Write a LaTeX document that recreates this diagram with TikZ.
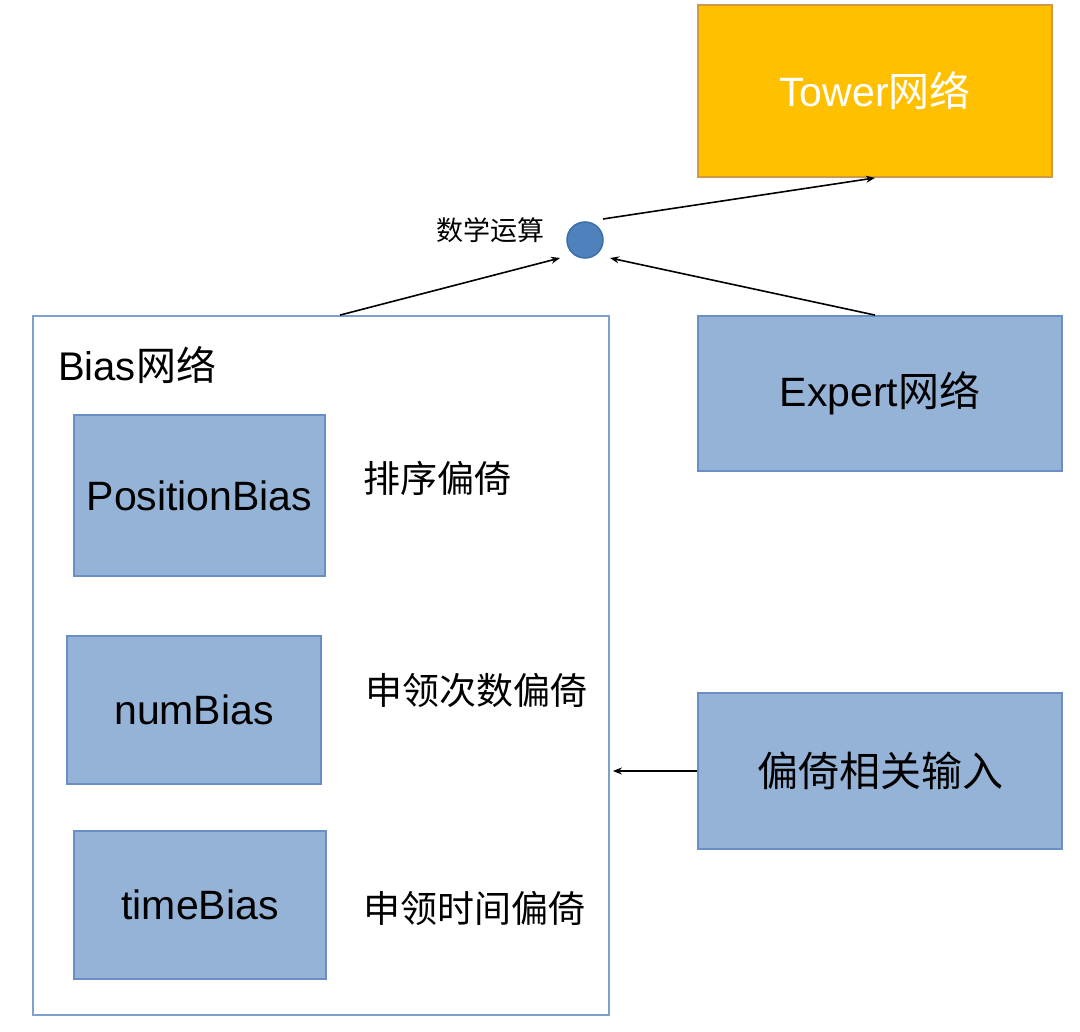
\documentclass[tikz,border=0pt]{standalone}
\usepackage{fontspec}
\setmainfont{Liberation Sans}
\newfontfamily\cjk{Noto Sans CJK SC}
\usetikzlibrary{arrows.meta,calc}
\definecolor{boxfill}{HTML}{95B3D7}
\definecolor{boxline}{HTML}{6A8FC5}
\definecolor{bigline}{HTML}{7FA0CD}
\definecolor{towerfill}{HTML}{FFC000}
\definecolor{towerline}{HTML}{D09A45}
\definecolor{dotfill}{HTML}{4F81BD}
\definecolor{dotline}{HTML}{3D6DA8}
\tikzset{
  bluebox/.style={draw=boxline, line width=1.8pt, fill=boxfill, inner sep=0pt,
    font=\fontsize{41}{48}\selectfont, text=black},
  sidelabel/.style={anchor=west, inner sep=0pt, font=\fontsize{37}{44}\selectfont\cjk},
  conn/.style={line width=1.6pt, -{Stealth[length=9pt,width=7pt]}}
}
\begin{document}
\begin{tikzpicture}[x=1pt,y=-1pt]
\useasboundingbox[fill=white] (0,0) rectangle (1080,1032);
% Tower
\node[draw=towerline, line width=1.8pt, fill=towerfill, inner sep=0pt,
  minimum width=354pt, minimum height=172pt, text=white,
  font=\fontsize{41}{48}\selectfont] (tower) at (875,91) {Tower{\cjk 网络}};
% circle
\node[circle, draw=dotline, line width=1.5pt, fill=dotfill, minimum size=36pt, inner sep=0pt] (circ) at (585,240) {};
\node[inner sep=0pt, font=\fontsize{27}{32}\selectfont\cjk] (op) at (490,230) {数学运算};
% Bias big box
\node[draw=bigline, line width=1.8pt, fill=white, minimum width=576pt, minimum height=699pt, inner sep=0pt] (bias) at (321,665.5) {};
\node[anchor=west, inner sep=0pt, font=\fontsize{40}{48}\selectfont] (biaslabel) at (58,365) {Bias{\cjk 网络}};
\node[bluebox, minimum width=251pt, minimum height=161pt] (pos) at (199.5,495.5) {PositionBias};
\node[bluebox, minimum width=254pt, minimum height=148pt] (num) at (194,710) {numBias};
\node[bluebox, minimum width=252pt, minimum height=148pt] (time) at (200,905) {timeBias};
\node[sidelabel] (l1) at (363,478) {排序偏倚};
\node[sidelabel] (l2) at (365,690) {申领次数偏倚};
\node[sidelabel] (l3) at (363,908) {申领时间偏倚};
% right boxes
\node[bluebox, minimum width=364pt, minimum height=155pt] (expert) at (880,393.5) {Expert{\cjk 网络}};
\node[bluebox, minimum width=364pt, minimum height=156pt, font=\fontsize{41}{48}\selectfont\cjk] (input) at (880,771) {偏倚相关输入};
% connectors
\draw[conn] ([shift={(18,-21)}]circ.center) -- (tower.south);
\draw[conn] ([xshift=19pt]bias.north) -- ([shift={(-25,18)}]circ.center);
\draw[conn] ([xshift=-5pt]expert.north) -- ([shift={(25,18)}]circ.center);
\draw[conn, shorten >=3pt] (input.west) -- (input.west -| bias.east);
\end{tikzpicture}
\end{document}
